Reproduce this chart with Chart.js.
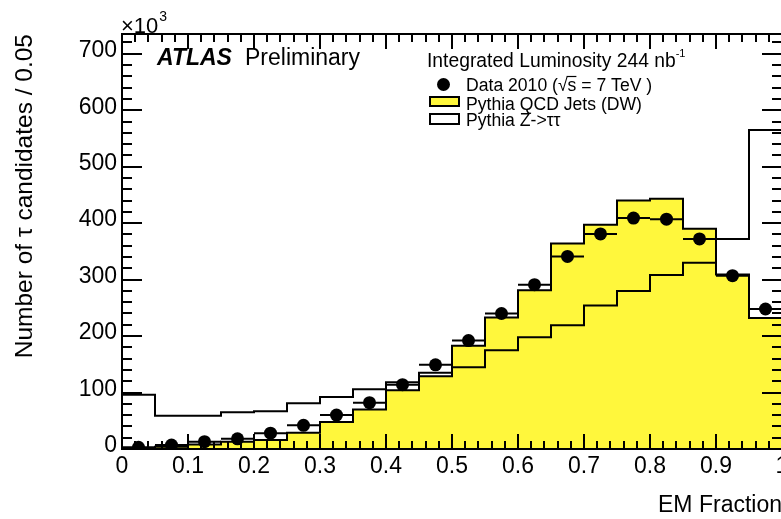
<!DOCTYPE html>
<html>
<head>
<meta charset="utf-8">
<title>EM Fraction</title>
<script src="https://cdn.jsdelivr.net/npm/chart.js@4/dist/chart.umd.min.js"></script>
<style>
  body { margin: 0; background: #fff; }
  #wrap { width: 781px; height: 519px; overflow: hidden; }
  canvas { display: block; }
</style>
</head>
<body>
<div id="wrap"><canvas id="emChart" width="800" height="519"></canvas></div>
<script>
// EM fraction of tau candidates, bins of 0.05 (counts in units of 10^3)
const binLow = [0, 0.05, 0.1, 0.15, 0.2, 0.25, 0.3, 0.35, 0.4, 0.45,
                0.5, 0.55, 0.6, 0.65, 0.7, 0.75, 0.8, 0.85, 0.9, 0.95];
const binWidth = 0.05;
const dataCounts = [3, 7, 13, 18, 28, 42, 60, 82, 114, 149,
                    192, 240, 291, 341, 381, 409, 407, 372, 307, 248];
const qcdCounts = [0, 4, 8, 13, 16, 29, 48, 70, 104, 129,
                   183, 233, 281, 364, 397, 440, 443, 390, 309, 232];
const ztautauCounts = [96, 59, 59, 65, 67, 81, 92, 106, 118, 135,
                       145, 175, 198, 219, 254, 280, 308, 330, 372, 565];

const xTickValues = [0, 0.1, 0.2, 0.3, 0.4, 0.5, 0.6, 0.7, 0.8, 0.9, 1];
const xTickLabels = ['0', '0.1', '0.2', '0.3', '0.4', '0.5', '0.6', '0.7', '0.8', '0.9', '1'];
const yTickValues = [0, 100, 200, 300, 400, 500, 600, 700];
const yMax = 735;

const FONT = "'Liberation Sans', Arial, Helvetica, sans-serif";
const YELLOW = '#fff73c';

// turn bin contents into step outline points
function histPoints(values) {
    const pts = [];
    values.forEach((v, i) => {
        pts.push({ x: binLow[i], y: v });
        pts.push({ x: binLow[i] + binWidth, y: v });
    });
    return pts;
}

// frame plus inward ticks on all four sides
const axisFrame = {
    id: 'axisFrame',
    afterDraw(chart) {
        const { ctx, chartArea: a, scales: { x, y } } = chart;
        ctx.save();
        ctx.strokeStyle = '#000';
        ctx.lineWidth = 2;
        ctx.strokeRect(a.left, a.top, a.right - a.left, a.bottom - a.top);
        ctx.beginPath();
        for (let i = 0; i <= 50; i++) {
            const px = Math.round(x.getPixelForValue(i * 0.02));
            const len = i % 5 === 0 ? 15 : 8;
            ctx.moveTo(px, a.bottom); ctx.lineTo(px, a.bottom - len);
            ctx.moveTo(px, a.top); ctx.lineTo(px, a.top + len);
        }
        for (let v = 0; v <= yMax; v += 20) {
            const py = Math.round(y.getPixelForValue(v));
            const len = v % 100 === 0 ? 20 : 10;
            ctx.moveTo(a.left, py); ctx.lineTo(a.left + len, py);
            ctx.moveTo(a.right, py); ctx.lineTo(a.right - len, py);
        }
        ctx.stroke();
        ctx.restore();
    }
};

// horizontal bin-width bars under the data markers
const binErrorBars = {
    id: 'binErrorBars',
    beforeDatasetDraw(chart, args) {
        if (args.index !== 2) return;
        const { ctx, scales: { x, y } } = chart;
        ctx.save();
        ctx.strokeStyle = '#000';
        ctx.lineWidth = 2;
        ctx.beginPath();
        dataCounts.forEach((v, i) => {
            const py = y.getPixelForValue(v);
            ctx.moveTo(x.getPixelForValue(binLow[i]), py);
            ctx.lineTo(x.getPixelForValue(binLow[i] + binWidth), py);
        });
        ctx.stroke();
        ctx.restore();
    }
};

// exponent, ATLAS label and the legend box
const plotLabels = {
    id: 'plotLabels',
    afterDraw(chart) {
        const { ctx } = chart;
        ctx.save();
        ctx.fillStyle = '#000';
        ctx.textBaseline = 'alphabetic';
        ctx.textAlign = 'left';

        ctx.font = `22px ${FONT}`;
        ctx.fillText('×10', 121, 33);
        const ew = ctx.measureText('×10').width;
        ctx.font = `14px ${FONT}`;
        ctx.fillText('3', 121 + ew + 1, 21);

        ctx.font = `italic bold 23px ${FONT}`;
        ctx.fillText('ATLAS', 157, 65);
        ctx.font = `23px ${FONT}`;
        ctx.fillText('Preliminary', 245, 65);

        ctx.font = `19.3px ${FONT}`;
        const lumi = 'Integrated Luminosity 244 nb';
        ctx.fillText(lumi, 427, 66.5);
        const lw = ctx.measureText(lumi).width;
        ctx.font = `11px ${FONT}`;
        ctx.fillText('-1', 427 + lw, 57);

        // legend symbols
        ctx.beginPath();
        ctx.arc(443.5, 84.5, 6.5, 0, Math.PI * 2);
        ctx.fill();
        ctx.lineWidth = 2;
        ctx.strokeStyle = '#000';
        ctx.fillStyle = YELLOW;
        ctx.fillRect(430, 97, 29, 9);
        ctx.strokeRect(430, 97, 29, 9);
        ctx.fillStyle = '#fff';
        ctx.fillRect(430, 114, 29, 10);
        ctx.strokeRect(430, 114, 29, 10);

        ctx.fillStyle = '#000';
        ctx.font = `17.6px ${FONT}`;
        const dataLabel = 'Data 2010 (√s = 7 TeV )';
        ctx.fillText(dataLabel, 466, 90.5);
        // overline on the s under the root sign
        const pre = ctx.measureText('Data 2010 (√').width;
        const sw = ctx.measureText('s').width;
        ctx.lineWidth = 1.2;
        ctx.beginPath();
        ctx.moveTo(466 + pre - 1, 76.5);
        ctx.lineTo(466 + pre + sw, 76.5);
        ctx.stroke();
        ctx.fillText('Pythia QCD Jets (DW)', 466, 109.5);
        ctx.fillText('Pythia Z->ττ', 466, 126);
        ctx.restore();
    }
};

const ctx = document.getElementById('emChart');
new Chart(ctx, {
    type: 'line',
    data: {
        datasets: [
            {
                label: 'Pythia QCD Jets (DW)',
                data: histPoints(qcdCounts),
                borderColor: '#000',
                borderWidth: 2,
                backgroundColor: YELLOW,
                fill: 'origin',
                pointRadius: 0,
                tension: 0,
                order: 2
            },
            {
                label: 'Pythia Z->ττ',
                data: histPoints(ztautauCounts),
                borderColor: '#000',
                borderWidth: 2,
                fill: false,
                pointRadius: 0,
                tension: 0,
                order: 1
            },
            {
                label: 'Data 2010',
                data: dataCounts.map((v, i) => ({ x: binLow[i] + binWidth / 2, y: v })),
                showLine: false,
                pointRadius: 6.5,
                pointBackgroundColor: '#000',
                pointBorderWidth: 0,
                order: 0
            }
        ]
    },
    options: {
        responsive: false,
        animation: false,
        events: [],
        layout: { padding: { top: 34, right: 18, left: 0, bottom: 0 } },
        plugins: {
            legend: { display: false },
            tooltip: { enabled: false }
        },
        scales: {
            x: {
                type: 'linear',
                min: 0,
                max: 1,
                afterFit(s) { s.height = 70; },
                afterBuildTicks(s) { s.ticks = xTickValues.map(v => ({ value: v })); },
                grid: { display: false, drawTicks: false },
                border: { display: false },
                ticks: {
                    callback: (v, i) => xTickLabels[i],
                    maxRotation: 0,
                    autoSkip: false,
                    padding: 4,
                    color: '#000',
                    font: { family: FONT, size: 23 }
                },
                title: {
                    display: true,
                    text: 'EM Fraction',
                    align: 'end',
                    color: '#000',
                    font: { family: FONT, size: 23 },
                    padding: { top: 0, bottom: 0 }
                }
            },
            y: {
                min: 0,
                max: yMax,
                afterFit(s) { s.width = 122; },
                afterBuildTicks(s) { s.ticks = yTickValues.map(v => ({ value: v })); },
                grid: { display: false, drawTicks: false },
                border: { display: false },
                ticks: {
                    callback: v => String(v),
                    padding: 5,
                    labelOffset: -3,
                    color: '#000',
                    font: { family: FONT, size: 23 }
                },
                title: {
                    display: true,
                    text: 'Number of τ candidates / 0.05',
                    align: 'end',
                    color: '#000',
                    font: { family: FONT, size: 24.5 },
                    padding: { top: 11, bottom: 0 }
                }
            }
        }
    },
    plugins: [binErrorBars, axisFrame, plotLabels]
});
</script>
</body>
</html>
